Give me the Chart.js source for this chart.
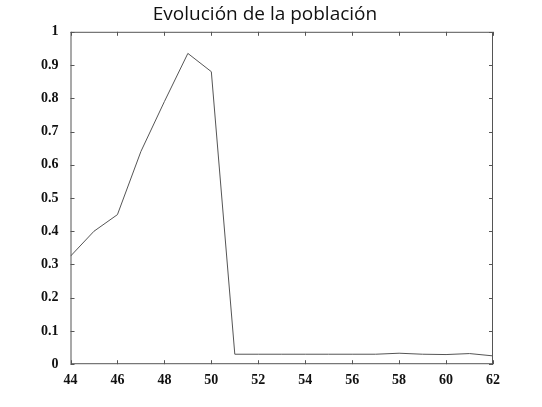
<!DOCTYPE html>
<html><head><meta charset="utf-8">
<script src="https://cdn.jsdelivr.net/npm/chart.js@4"></script>
<style>html,body{margin:0;padding:0;background:#fff}#w{width:542px;height:407px}</style>
</head><body><div id="w"><canvas id="c"></canvas></div>
<script>
const years = [44,45,46,47,48,49,50,51,52,53,54,55,56,57,58,59,60,61,62];
const population = [0.325,0.40,0.45,0.64,0.79,0.935,0.88,0.03,0.03,0.03,0.03,0.03,0.03,0.03,0.033,0.03,0.029,0.032,0.025];
const titleText = 'Evolución de la población';
const inTicks = {id:'inTicks',afterDraw(ch){const c=ch.ctx,a=ch.chartArea,x=ch.scales.x,y=ch.scales.y;c.save();c.strokeStyle='#555';c.lineWidth=1;c.beginPath();
for(let v=44;v<=62;v+=2){const p=Math.round(x.getPixelForValue(v))+0.5;c.moveTo(p,a.bottom);c.lineTo(p,a.bottom-4);c.moveTo(p,a.top);c.lineTo(p,a.top+4);}
for(let i=0;i<=10;i++){const p=Math.round(y.getPixelForValue(i/10))+0.5;c.moveTo(a.left,p);c.lineTo(a.left+4,p);c.moveTo(a.right,p);c.lineTo(a.right-4,p);}
c.stroke();c.strokeRect(a.left+0.5,a.top+0.5,a.right-a.left-1,a.bottom-a.top-1);c.restore();}};
new Chart(document.getElementById('c'),{type:'line',
data:{datasets:[{data:years.map((x,i)=>({x,y:population[i]})),borderColor:'#555',borderWidth:1,pointRadius:0,tension:0}]},
options:{responsive:true,maintainAspectRatio:false,animation:false,
layout:{padding:{left:37,right:49,top:0,bottom:18}},
plugins:{legend:{display:false},tooltip:{enabled:false},title:{display:true,text:titleText,color:'#111',font:{family:'Open Sans',size:19,weight:'normal'},padding:{top:3,bottom:6}}},
scales:{x:{type:'linear',min:44,max:62,grid:{display:false},border:{display:false},
ticks:{stepSize:2,color:'#111',padding:0,maxRotation:0,font:{family:'Liberation Serif',size:14,weight:'bold'}}},
y:{min:0,max:1,grid:{display:false},border:{display:false},
ticks:{stepSize:0.1,color:'#111',padding:4,font:{family:'Liberation Serif',size:14,weight:'bold'},callback:v=>Math.round(v*10)/10}}}},
plugins:[inTicks]});
</script></body></html>
